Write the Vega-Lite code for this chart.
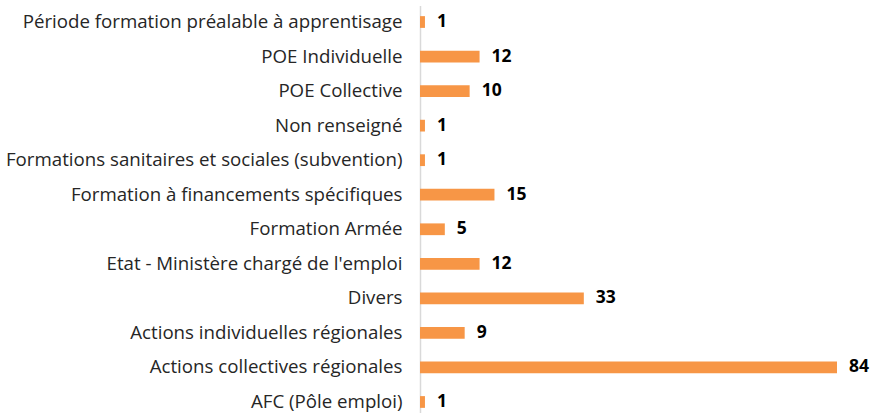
{
  "$schema": "https://vega.github.io/schema/vega-lite/v6.json",
  "width": 417,
  "height": 413,
  "autosize": "none",
  "padding": {"left": 420, "top": 5.5, "right": 33, "bottom": 0},
  "background": "white",
  "config": {"view": {"stroke": null}, "font": "Open Sans"},
  "data": {"values": [
    {"cat": "Période formation préalable à apprentisage", "v": 1},
    {"cat": "POE Individuelle", "v": 12},
    {"cat": "POE Collective", "v": 10},
    {"cat": "Non renseigné", "v": 1},
    {"cat": "Formations sanitaires et sociales (subvention)", "v": 1},
    {"cat": "Formation à financements spécifiques", "v": 15},
    {"cat": "Formation Armée", "v": 5},
    {"cat": "Etat - Ministère chargé de l'emploi", "v": 12},
    {"cat": "Divers", "v": 33},
    {"cat": "Actions individuelles régionales", "v": 9},
    {"cat": "Actions collectives régionales", "v": 84},
    {"cat": "AFC (Pôle emploi)", "v": 1}
  ]},
  "encoding": {
    "y": {"field": "cat", "type": "nominal", "sort": null,
      "scale": {"paddingInner": 0.66, "paddingOuter": 0.308},
      "axis": {"title": null, "ticks": false, "domainColor": "#d9d9d9", "domainWidth": 1.5,
        "labelFontSize": 18.7, "labelColor": "#262626", "labelPadding": 18, "labelLimit": 500, "labelFont": "Open Sans"}},
    "x": {"field": "v", "type": "quantitative", "scale": {"domain": [0, 84], "nice": false}, "axis": null}
  },
  "layer": [
    {"mark": {"type": "bar", "color": "#F79646"}},
    {"mark": {"type": "text", "align": "left", "dx": 12, "fontSize": 17.5, "fontWeight": "bold", "color": "#000000", "font": "Open Sans"},
     "encoding": {"text": {"field": "v", "type": "quantitative"}}}
  ]
}
